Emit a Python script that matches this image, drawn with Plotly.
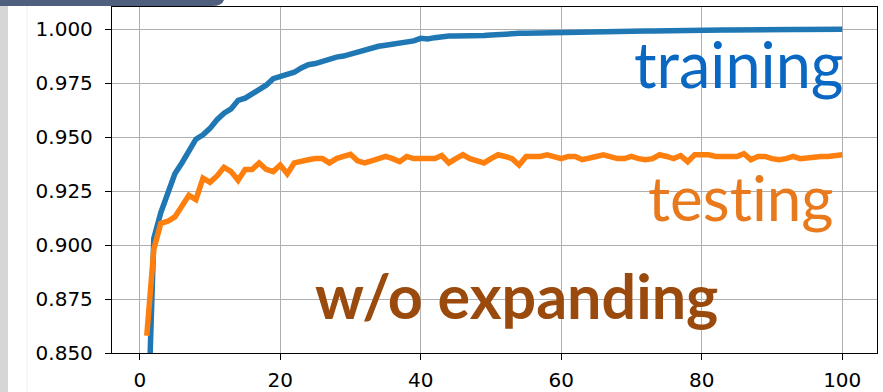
import plotly.graph_objects as go

epochs = list(range(1, 101))

train_acc = [
    0.800, 0.903, 0.915, 0.925, 0.933, 0.938, 0.944, 0.949, 0.951, 0.954,
    0.958, 0.961, 0.963, 0.967, 0.968, 0.970, 0.972, 0.974, 0.977, 0.978,
    0.979, 0.980, 0.982, 0.9835, 0.984, 0.985, 0.9866, 0.987, 0.9875, 0.9885,
    0.989, 0.990, 0.9912, 0.992, 0.9925, 0.993, 0.9932, 0.9938, 0.9945, 0.9957,
    0.9954, 0.996, 0.9965, 0.9968, 0.9968, 0.9967, 0.9966, 0.9968, 0.997, 0.9972,
    0.9975, 0.9976, 0.9978, 0.998, 0.998, 0.9981, 0.9982, 0.9982, 0.9983, 0.9984,
    0.9984, 0.9985, 0.9986, 0.9986, 0.9987, 0.9988, 0.9988, 0.9989, 0.9989, 0.9990,
    0.9990, 0.9991, 0.9991, 0.9992, 0.9992, 0.9992, 0.9993, 0.9993, 0.9994, 0.9994,
    0.9994, 0.9995, 0.9995, 0.9995, 0.9996, 0.9996, 0.9996, 0.9997, 0.9997, 0.9997,
    0.9997, 0.9998, 0.9998, 0.9998, 0.9998, 0.9998, 0.9999, 0.9999, 0.9999, 0.9999,
]

test_acc = [
    0.858, 0.898, 0.910, 0.911, 0.913, 0.918, 0.923, 0.921, 0.931, 0.929,
    0.932, 0.936, 0.934, 0.930, 0.935, 0.935, 0.938, 0.935, 0.934, 0.937,
    0.933, 0.938, 0.939, 0.9395, 0.940, 0.940, 0.938, 0.940, 0.941, 0.942,
    0.939, 0.938, 0.939, 0.940, 0.941, 0.940, 0.9386, 0.941, 0.940, 0.940,
    0.940, 0.940, 0.9414, 0.938, 0.940, 0.9418, 0.940, 0.939, 0.938, 0.940,
    0.9418, 0.941, 0.940, 0.937, 0.941, 0.941, 0.941, 0.9418, 0.941, 0.940,
    0.941, 0.941, 0.9395, 0.940, 0.941, 0.9418, 0.941, 0.940, 0.940, 0.941,
    0.940, 0.9395, 0.940, 0.9418, 0.941, 0.940, 0.9414, 0.9386, 0.9418, 0.9418,
    0.9418, 0.941, 0.941, 0.9414, 0.941, 0.9423, 0.9395, 0.941, 0.941, 0.940,
    0.9395, 0.940, 0.941, 0.940, 0.9405, 0.941, 0.941, 0.941, 0.9415, 0.9418,
]

x_ticks = [0, 20, 40, 60, 80, 100]
y_ticks = [0.850, 0.875, 0.900, 0.925, 0.950, 0.975, 1.000]
y_tick_labels = ["0.850", "0.875", "0.900", "0.925", "0.950", "0.975", "1.000"]

W, H = 883, 392
L, R, T, B = 112, 877, 7, 353  # plot area in px


def px(xp):
    return (xp - L) / (R - L)


def py(yp):
    return (B - yp) / (B - T)


fig = go.Figure()
fig.add_trace(go.Scatter(x=epochs, y=train_acc, mode="lines",
                         line=dict(color="#1f77b4", width=5.5), name="training"))
fig.add_trace(go.Scatter(x=epochs, y=test_acc, mode="lines",
                         line=dict(color="#ff7f0e", width=5.5), name="testing"))

axis_common = dict(
    showline=True, linecolor="black", linewidth=1.3, mirror=True,
    showgrid=True, gridcolor="#b0b0b0", gridwidth=1,
    ticks="outside", ticklen=6, tickwidth=1.3, tickcolor="black",
    tickfont=dict(family="DejaVu Sans", size=20, color="black"),
    zeroline=False, automargin=False,
)

fig.update_xaxes(range=[-3.95, 104.95], tickvals=x_ticks, ticklabelstandoff=3, **axis_common)
fig.update_yaxes(range=[0.85, 1.0102], tickvals=y_ticks, ticktext=y_tick_labels,
                 ticklabelstandoff=8, **axis_common)

fig.add_annotation(text="training", xref="paper", yref="paper",
                   x=px(846), y=py(64), xanchor="right", yanchor="middle",
                   showarrow=False,
                   font=dict(family="Lato", size=63, color="#0a67c2"))
fig.add_annotation(text="t\u200cesti\u200cng".replace("\u200ce", "e").replace("ti\u200c", "t\u200ci"),
                   xref="paper", yref="paper",
                   x=px(836), y=py(197), xanchor="right", yanchor="middle",
                   showarrow=False,
                   font=dict(family="Lato", size=62, color="#e8791c"))
fig.add_annotation(text="<b>w/o expanding</b>", xref="paper", yref="paper",
                   x=px(313), y=py(295), xanchor="left", yanchor="middle",
                   showarrow=False,
                   font=dict(family="Lato", size=61, color="#9a4a0c"))

# screenshot decorations at the left / top-left
fig.add_shape(type="rect", xref="paper", yref="paper",
              x0=px(0), x1=px(8), y0=py(392), y1=py(0),
              fillcolor="#d6d6d6", line=dict(width=0), layer="below")
fig.add_shape(type="line", xref="paper", yref="paper",
              x0=px(27), x1=px(27), y0=py(392), y1=py(0),
              line=dict(color="#eeeeee", width=1), layer="below")
fig.add_shape(type="path", xref="paper", yref="paper",
              path=f"M {px(0)},{py(0)} L {px(224)},{py(0)} Q {px(222)},{py(6)} {px(212)},{py(6)} L {px(0)},{py(6)} Z",
              fillcolor="#4f5f7d", line=dict(width=0))

fig.update_layout(
    width=W, height=H,
    margin=dict(l=L, r=W - R, t=T, b=H - B),
    paper_bgcolor="white", plot_bgcolor="white",
    showlegend=False,
)

fig.write_html("out.html", config={"displayModeBar": False},
               post_script="document.body.style.margin='0';document.body.style.overflow='hidden';")
